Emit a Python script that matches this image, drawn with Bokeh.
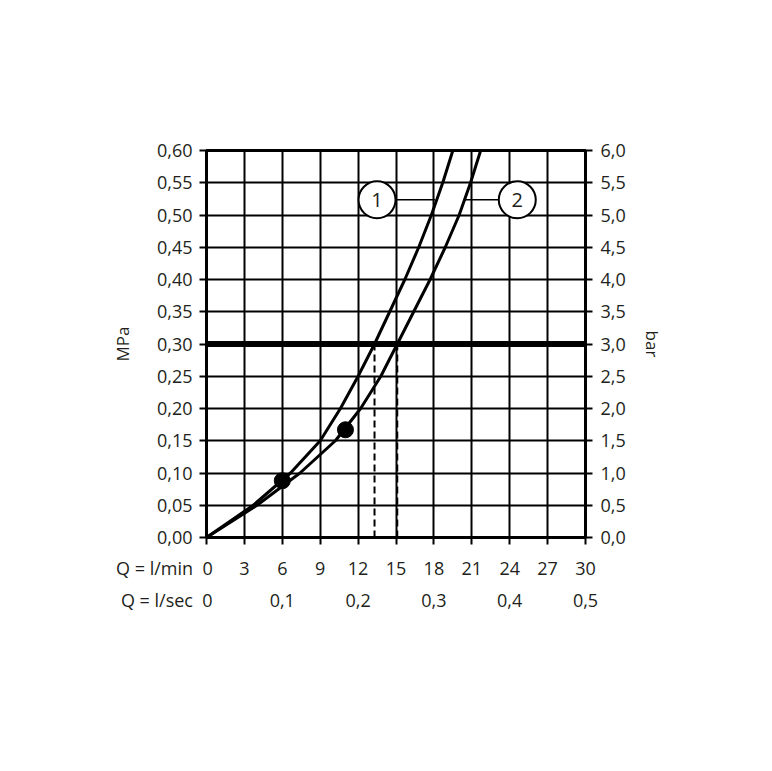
from bokeh.plotting import figure
from bokeh.models import (Range1d, LinearAxis, FixedTicker, Span)
from bokeh.embed import file_html
from bokeh.resources import INLINE
from bokeh.core.properties import value

# ---- data ----
# pressure (MPa) and the flow (l/min) at which each curve reaches it
pressure = [0, 0.05, 0.10, 0.15, 0.20, 0.25, 0.30, 0.35, 0.40, 0.45, 0.50, 0.55, 0.60]
curve1_q = [0, 3.7, 6.65, 9.0, 10.6, 12.0, 13.3, 14.5, 15.7, 16.8, 17.8, 18.7, 19.5]
curve2_q = [0, 4.0, 7.4, 10.2, 12.2, 13.8, 15.1, 16.4, 17.7, 18.9, 20.0, 20.9, 21.7]
dots_q = [6.0, 11.0]
dots_p = [0.088, 0.167]
ref_pressure = 0.30
cross_q = [13.3, 15.1]          # flows at reference pressure
curve_ids = ["1", "2"]
id_q = [13.5, 24.6]
id_p = [0.5236, 0.5236]
leader_q = [[14.9, 18.1], [20.35, 23.2]]

lmin_ticks = [0, 3, 6, 9, 12, 15, 18, 21, 24, 27, 30]
lsec_ticks = [0, 6, 12, 18, 24, 30]
lsec_labels = ["0", "0,1", "0,2", "0,3", "0,4", "0,5"]
mpa_ticks = [round(0.05 * i, 2) for i in range(13)]
mpa_labels = ["0,00", "0,05", "0,10", "0,15", "0,20", "0,25", "0,30",
              "0,35", "0,40", "0,45", "0,50", "0,55", "0,60"]
bar_ticks = [round(0.5 * i, 1) for i in range(13)]
bar_labels = ["0,0", "0,5", "1,0", "1,5", "2,0", "2,5", "3,0",
              "3,5", "4,0", "4,5", "5,0", "5,5", "6,0"]
row_labels = ["Q = l/min", "Q = l/sec"]

FONT = "Open Sans"
TXT = "#231f20"
FS = "18px"
NB = "\u00a0"

# the row caption shares the "0" tick label; it is balanced by
# non-breaking spaces so that the "0" stays centred on its tick
lmin_overrides = {t: str(t) for t in lmin_ticks}
lmin_overrides[0] = row_labels[0] + NB * 2 + "0" + NB * 18
lsec_overrides = {t: l for t, l in zip(lsec_ticks, lsec_labels)}
lsec_overrides[0] = row_labels[1] + NB * 2 + "0" + NB * 17

W, H = 740, 660
FL, FT, FR, FB = 206, 150, 585, 537   # frame edges
p = figure(width=W, height=H, output_backend="svg", toolbar_location=None,
           x_range=Range1d(0, 30), y_range=Range1d(0, 0.60),
           min_border_left=FL, min_border_top=FT,
           min_border_right=W - FR, min_border_bottom=H - FB,
           x_axis_location=None, y_axis_location=None)
p.extra_y_ranges = {"bar": Range1d(0, 6)}
p.background_fill_color = "white"
p.border_fill_color = "white"
p.outline_line_color = "black"
p.outline_line_width = 3

def style_axis(ax):
    ax.major_label_text_font = FONT
    ax.major_label_text_font_size = FS
    ax.major_label_text_color = TXT
    ax.axis_line_color = "black"
    ax.axis_line_width = 3
    ax.major_tick_line_color = "black"
    ax.major_tick_line_width = 2
    ax.major_tick_out = 7
    ax.major_tick_in = 0
    ax.minor_tick_line_color = None
    ax.axis_label_text_font = FONT
    ax.axis_label_text_font_size = "17px"
    ax.axis_label_text_font_style = "normal"
    ax.axis_label_text_color = TXT

# left axis MPa
ly = LinearAxis(ticker=FixedTicker(ticks=mpa_ticks),
                major_label_overrides={t: l for t, l in zip(mpa_ticks, mpa_labels)},
                axis_label="MPa")
style_axis(ly)
ly.major_label_standoff = 7
ly.axis_label_standoff = 20
p.add_layout(ly, "left")

# right axis bar
ry = LinearAxis(y_range_name="bar", ticker=FixedTicker(ticks=bar_ticks),
                major_label_overrides={t: l for t, l in zip(bar_ticks, bar_labels)},
                axis_label="bar")
style_axis(ry)
ry.major_label_standoff = 8
ry.axis_label_standoff = 12
p.add_layout(ry, "right")

# bottom axis l/min
bx = LinearAxis(ticker=FixedTicker(ticks=lmin_ticks),
                major_label_overrides=lmin_overrides)
style_axis(bx)
bx.major_label_standoff = 11
p.add_layout(bx, "below")

# bottom axis l/sec
bx2 = LinearAxis(ticker=FixedTicker(ticks=lsec_ticks),
                 major_label_overrides=lsec_overrides)
style_axis(bx2)
bx2.axis_line_color = None
bx2.major_tick_line_color = None
bx2.major_tick_out = 0
bx2.major_label_standoff = 5
p.add_layout(bx2, "below")

# grid
for g in (p.xgrid, p.ygrid):
    g.grid_line_color = "black"
    g.grid_line_width = 2
p.xgrid.ticker = FixedTicker(ticks=lmin_ticks)
p.ygrid.ticker = FixedTicker(ticks=mpa_ticks)

# reference pressure line
p.add_layout(Span(location=ref_pressure, dimension="width",
                  line_color="black", line_width=6))

# dashed verticals
for q in cross_q:
    p.line([q, q], [0, ref_pressure], line_color="black", line_width=2,
           line_dash="7 4")

# curves
p.line(curve1_q, pressure, line_color="black", line_width=3, line_join="round")
p.line(curve2_q, pressure, line_color="black", line_width=3, line_join="round")
p.scatter(dots_q, dots_p, size=16, color="black")

# curve identifiers
for (a, b) in leader_q:
    p.line([a, b], [id_p[0], id_p[0]], line_color="black", line_width=1.5)
p.scatter(id_q, id_p, size=37, fill_color="white", line_color="black",
          line_width=2)
p.text(id_q, id_p, text=curve_ids, text_align="center", text_baseline="middle",
       text_font=value(FONT), text_font_size="20px", text_color=TXT)

open("out.html", "w").write(file_html(p, INLINE))
